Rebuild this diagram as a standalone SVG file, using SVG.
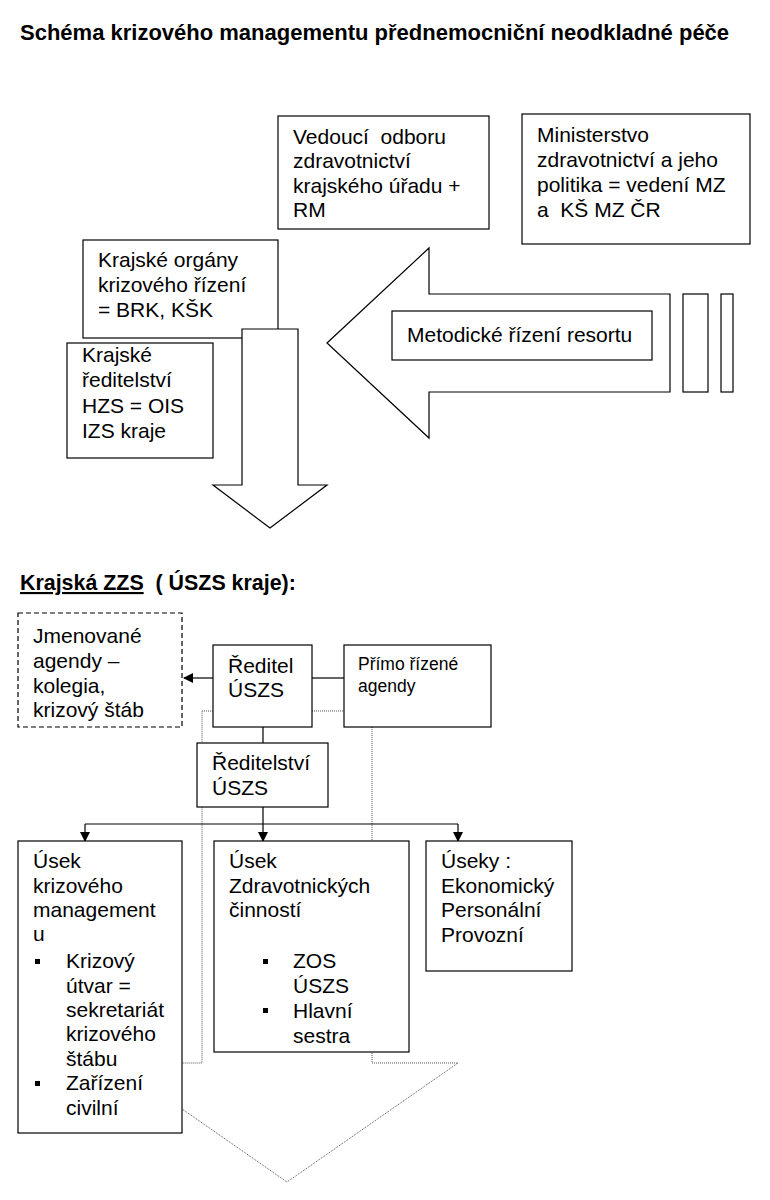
<svg xmlns="http://www.w3.org/2000/svg" width="770" height="1200" viewBox="0 0 770 1200">
<style>
text{font-family:"Liberation Sans",Arial,sans-serif;font-size:21px;fill:#000;white-space:pre}
.b{font-weight:bold}
.t{font-size:22px}
.s{font-size:17.5px}
.box{fill:#fff;stroke:#000;stroke-width:1.2}
.dash{fill:#fff;stroke:#000;stroke-width:1.2;stroke-dasharray:5 3}
.dot{fill:none;stroke:#555;stroke-width:1;stroke-dasharray:1 1}
.ln{fill:none;stroke:#000;stroke-width:1.2}
.arr{fill:#fff;stroke:#000;stroke-width:1.2}
.bul{fill:#000}
</style>
<defs>
<marker id="ah" markerWidth="10" markerHeight="10" refX="9" refY="5" orient="auto" markerUnits="userSpaceOnUse">
<path d="M0,0 L10,5 L0,10 Z" fill="#000"/>
</marker>
</defs>
<rect width="770" height="1200" fill="#fff"/>
<text class="b t" x="20" y="40">Schéma krizového managementu přednemocniční neodkladné péče</text>

<g id="n-vedouci">
<rect class="box" x="278" y="116" width="211" height="113"/>
<text x="293" y="144">Vedoucí  odboru</text>
<text x="293" y="168">zdravotnictví</text>
<text x="293" y="193">krajského úřadu +</text>
<text x="293" y="217">RM</text>
</g>
<g id="n-ministerstvo">
<rect class="box" x="522" y="114" width="228" height="130"/>
<text x="537" y="142">Ministerstvo</text>
<text x="537" y="167">zdravotnictví a jeho</text>
<text x="537" y="192">politika = vedení MZ</text>
<text x="537" y="217">a  KŠ MZ ČR</text>
</g>
<g id="n-krajske-organy">
<rect class="box" x="83" y="240" width="195" height="98"/>
<text x="98" y="267">Krajské orgány</text>
<text x="98" y="292">krizového řízení</text>
<text x="98" y="317">= BRK, KŠK</text>
</g>
<g id="n-krajske-reditelstvi">
<rect class="box" x="67" y="343" width="146" height="115"/>
<text x="82" y="362">Krajské</text>
<text x="82" y="387">ředitelství</text>
<text x="82" y="413">HZS = OIS</text>
<text x="82" y="438">IZS kraje</text>
</g>
<g id="n-down-arrow">
<polygon class="arr" points="242,329 298,329 298,485 327,485 270,528 213,485 242,485"/>
</g>
<g id="n-left-arrow">
<polygon class="arr" points="327,343 429,248 429,294 670,294 670,392 429,392 429,438"/>
<rect class="box" x="683" y="294" width="25" height="98"/>
<rect class="box" x="721" y="294" width="12" height="98"/>
</g>
<g id="n-metodicke">
<rect class="box" x="392" y="311" width="260" height="49"/>
<text x="407" y="342">Metodické řízení resortu</text>
</g>

<text class="b" x="20" y="590" style="font-size:21.4px"><tspan text-decoration="underline">Krajská ZZS</tspan>  ( ÚSZS kraje):</text>

<g id="connectors">
<polygon class="dot" points="202,711 372,711 372,1063 458,1063 287,1182 116,1063 202,1063"/>
<line class="ln" x1="213" y1="678" x2="184" y2="678" marker-end="url(#ah)"/>
<line class="ln" x1="312" y1="678" x2="344" y2="678"/>
<line class="ln" x1="263" y1="727" x2="263" y2="743"/>
<line class="ln" x1="263" y1="807" x2="263" y2="824"/>
<line class="ln" x1="85" y1="824" x2="458" y2="824"/>
<line class="ln" x1="85" y1="824" x2="85" y2="841" marker-end="url(#ah)"/>
<line class="ln" x1="263" y1="824" x2="263" y2="841" marker-end="url(#ah)"/>
<line class="ln" x1="458" y1="824" x2="458" y2="841" marker-end="url(#ah)"/>
</g>

<g id="n-jmenovane">
<rect class="dash" x="18" y="613" width="164" height="114"/>
<text x="33" y="643">Jmenované</text>
<text x="33" y="668">agendy –</text>
<text x="33" y="693">kolegia,</text>
<text x="33" y="717">krizový štáb</text>
</g>
<g id="n-reditel">
<rect class="box" x="213" y="645" width="99" height="82"/>
<text x="228" y="673">Ředitel</text>
<text x="228" y="697">ÚSZS</text>
</g>
<g id="n-primo">
<rect class="box" x="344" y="645" width="147" height="82"/>
<text class="s" x="358" y="670">Přímo řízené</text>
<text class="s" x="358" y="692">agendy</text>
</g>
<g id="n-reditelstvi">
<rect class="box" x="197" y="743" width="131" height="64"/>
<text x="212" y="770">Ředitelství</text>
<text x="212" y="795">ÚSZS</text>
</g>
<g id="n-usek-krizoveho">
<rect class="box" x="18" y="841" width="164" height="292"/>
<text x="33" y="868">Úsek</text>
<text x="33" y="893">krizového</text>
<text x="33" y="917">management</text>
<text x="33" y="941">u</text>
<rect class="bul" x="35" y="959" width="5" height="5"/>
<text x="66" y="968">Krizový</text>
<text x="66" y="993">útvar =</text>
<text x="66" y="1017">sekretariát</text>
<text x="66" y="1041">krizového</text>
<text x="66" y="1066">štábu</text>
<rect class="bul" x="35" y="1081" width="5" height="5"/>
<text x="66" y="1090">Zařízení</text>
<text x="66" y="1115">civilní</text>
</g>
<g id="n-usek-zdravotnickych">
<rect class="box" x="214" y="841" width="195" height="211"/>
<text x="229" y="868">Úsek</text>
<text x="229" y="893">Zdravotnických</text>
<text x="229" y="917">činností</text>
<rect class="bul" x="263" y="959" width="5" height="5"/>
<text x="293" y="968">ZOS</text>
<text x="293" y="993">ÚSZS</text>
<rect class="bul" x="263" y="1008" width="5" height="5"/>
<text x="293" y="1018">Hlavní</text>
<text x="293" y="1043">sestra</text>
</g>
<g id="n-useky">
<rect class="box" x="426" y="841" width="146" height="130"/>
<text x="441" y="868">Úseky :</text>
<text x="441" y="893">Ekonomický</text>
<text x="441" y="917">Personální</text>
<text x="441" y="942">Provozní</text>
</g>
</svg>
